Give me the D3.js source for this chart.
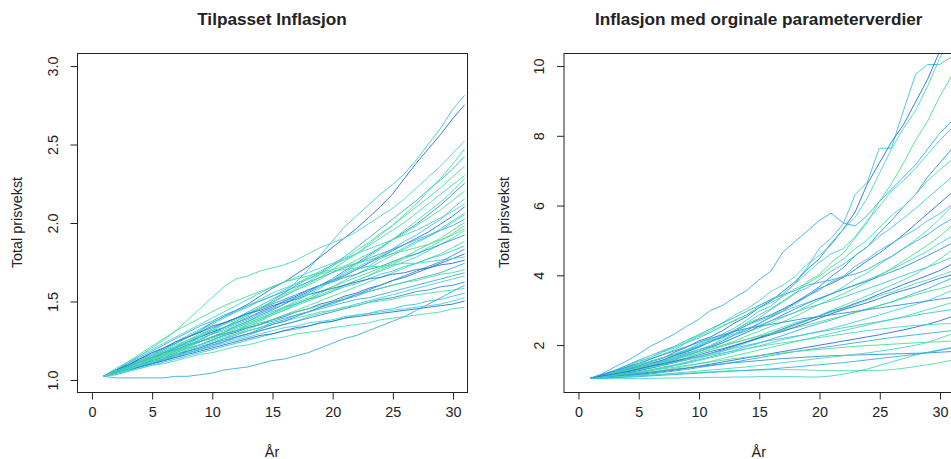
<!DOCTYPE html>
<html><head><meta charset="utf-8">
<script src="https://cdn.jsdelivr.net/npm/d3@7/dist/d3.min.js"></script>
<style>body{margin:0;background:#fff;}svg{display:block;}text{font-family:"Liberation Sans",Arial,sans-serif;fill:#222;}</style>
</head><body>
<svg id="c" width="951" height="459"></svg>
<script>
const years = [1,2,3,4,5,6,7,8,9,10,11,12,13,14,15,16,17,18,19,20,21,22,23,24,25,26,27,28,29,30,31];
const xTicks = [0,5,10,15,20,25,30];
const leftYTicks = [1.0,1.5,2.0,2.5,3.0];
const rightYTicks = [2,4,6,8,10];
const titles = ["Tilpasset Inflasjon","Inflasjon med orginale parameterverdier"];
const xLabel = "År";
const yLabel = "Total prisvekst";

const leftSeries = [
[1.02,1.05,1.07,1.10,1.13,1.16,1.19,1.22,1.25,1.29,1.33,1.37,1.41,1.45,1.50,1.55,1.62,1.70,1.79,1.88,1.97,2.04,2.11,2.18,2.24,2.31,2.40,2.50,2.60,2.72,2.81],
[1.02,1.06,1.09,1.12,1.15,1.19,1.23,1.27,1.31,1.36,1.40,1.44,1.48,1.53,1.58,1.62,1.67,1.72,1.78,1.84,1.90,1.96,2.03,2.10,2.18,2.28,2.38,2.47,2.56,2.66,2.75],
[1.02,1.06,1.10,1.15,1.20,1.25,1.31,1.38,1.45,1.52,1.59,1.64,1.66,1.69,1.71,1.73,1.76,1.80,1.84,1.87,1.90,1.94,1.99,2.04,2.09,2.15,2.22,2.29,2.36,2.44,2.52],
[1.02,1.04,1.07,1.10,1.14,1.17,1.21,1.25,1.28,1.32,1.36,1.39,1.43,1.47,1.51,1.55,1.60,1.64,1.68,1.73,1.78,1.84,1.90,1.96,2.02,2.08,2.14,2.21,2.27,2.34,2.42],
[1.02,1.05,1.08,1.11,1.13,1.16,1.20,1.23,1.27,1.30,1.33,1.37,1.41,1.45,1.49,1.54,1.58,1.62,1.67,1.72,1.77,1.82,1.87,1.93,1.98,2.04,2.10,2.16,2.22,2.29,2.36],
[1.02,1.06,1.09,1.13,1.17,1.20,1.24,1.28,1.32,1.36,1.40,1.43,1.46,1.50,1.53,1.57,1.61,1.65,1.69,1.73,1.76,1.80,1.85,1.90,1.95,2.00,2.06,2.12,2.18,2.24,2.30],
[1.02,1.04,1.06,1.09,1.12,1.15,1.18,1.21,1.24,1.27,1.30,1.34,1.37,1.41,1.44,1.48,1.52,1.56,1.60,1.64,1.69,1.74,1.79,1.84,1.89,1.94,1.99,2.05,2.11,2.18,2.25],
[1.02,1.05,1.08,1.12,1.15,1.18,1.22,1.25,1.29,1.32,1.35,1.39,1.42,1.46,1.49,1.53,1.57,1.60,1.64,1.68,1.72,1.76,1.80,1.84,1.89,1.93,1.98,2.03,2.08,2.14,2.20],
[1.02,1.05,1.07,1.10,1.13,1.16,1.19,1.22,1.25,1.29,1.32,1.35,1.38,1.42,1.45,1.48,1.52,1.55,1.59,1.63,1.67,1.71,1.75,1.79,1.83,1.88,1.92,1.97,2.02,2.09,2.15],
[1.02,1.04,1.07,1.10,1.13,1.17,1.20,1.24,1.27,1.30,1.33,1.36,1.39,1.43,1.46,1.50,1.53,1.57,1.60,1.63,1.66,1.70,1.74,1.78,1.82,1.86,1.90,1.94,1.99,2.04,2.10],
[1.02,1.04,1.06,1.08,1.11,1.13,1.16,1.19,1.22,1.25,1.28,1.31,1.34,1.37,1.41,1.44,1.48,1.51,1.55,1.59,1.63,1.67,1.71,1.75,1.79,1.83,1.87,1.91,1.96,2.01,2.06],
[1.02,1.06,1.10,1.14,1.18,1.22,1.26,1.30,1.34,1.37,1.41,1.44,1.47,1.50,1.53,1.56,1.59,1.62,1.65,1.68,1.71,1.74,1.77,1.80,1.83,1.86,1.89,1.92,1.95,1.98,2.02],
[1.02,1.05,1.08,1.10,1.13,1.16,1.18,1.21,1.24,1.27,1.30,1.33,1.36,1.39,1.42,1.45,1.48,1.51,1.54,1.57,1.60,1.63,1.66,1.70,1.73,1.77,1.80,1.84,1.88,1.93,1.98],
[1.02,1.04,1.07,1.10,1.12,1.15,1.18,1.21,1.24,1.27,1.29,1.32,1.35,1.38,1.41,1.44,1.47,1.50,1.53,1.56,1.60,1.63,1.66,1.69,1.72,1.75,1.78,1.82,1.86,1.90,1.95],
[1.02,1.05,1.09,1.13,1.16,1.20,1.23,1.27,1.30,1.33,1.36,1.39,1.42,1.45,1.48,1.51,1.54,1.57,1.60,1.62,1.65,1.67,1.70,1.72,1.75,1.78,1.80,1.83,1.86,1.89,1.92],
[1.02,1.04,1.06,1.08,1.10,1.13,1.15,1.18,1.20,1.23,1.26,1.29,1.32,1.35,1.38,1.41,1.44,1.47,1.50,1.53,1.56,1.59,1.62,1.65,1.68,1.71,1.74,1.77,1.80,1.84,1.88],
[1.02,1.05,1.08,1.11,1.14,1.17,1.20,1.23,1.26,1.29,1.31,1.34,1.37,1.40,1.43,1.46,1.48,1.51,1.53,1.56,1.59,1.61,1.64,1.67,1.69,1.72,1.74,1.77,1.79,1.82,1.85],
[1.02,1.04,1.07,1.09,1.12,1.14,1.17,1.20,1.22,1.25,1.28,1.30,1.33,1.35,1.38,1.40,1.43,1.45,1.48,1.50,1.53,1.55,1.58,1.60,1.63,1.65,1.68,1.71,1.74,1.77,1.80],
[1.02,1.05,1.08,1.12,1.16,1.19,1.23,1.27,1.31,1.35,1.39,1.43,1.47,1.51,1.55,1.58,1.61,1.64,1.67,1.69,1.70,1.71,1.72,1.72,1.73,1.74,1.74,1.75,1.76,1.77,1.78],
[1.02,1.04,1.06,1.09,1.11,1.13,1.16,1.18,1.21,1.23,1.26,1.28,1.31,1.33,1.36,1.38,1.41,1.43,1.46,1.48,1.51,1.53,1.56,1.58,1.60,1.62,1.64,1.66,1.68,1.71,1.74],
[1.02,1.05,1.08,1.11,1.13,1.16,1.19,1.21,1.24,1.26,1.29,1.31,1.34,1.36,1.38,1.41,1.43,1.45,1.47,1.49,1.52,1.54,1.56,1.58,1.60,1.62,1.63,1.65,1.67,1.68,1.70],
[1.02,1.04,1.06,1.08,1.10,1.12,1.14,1.17,1.19,1.21,1.24,1.26,1.28,1.31,1.33,1.35,1.37,1.40,1.42,1.44,1.46,1.48,1.50,1.52,1.54,1.56,1.58,1.60,1.62,1.64,1.66],
[1.02,1.04,1.07,1.09,1.11,1.13,1.16,1.18,1.20,1.23,1.25,1.27,1.29,1.31,1.33,1.35,1.37,1.39,1.41,1.43,1.45,1.47,1.49,1.51,1.52,1.54,1.56,1.57,1.59,1.60,1.62],
[1.02,1.05,1.07,1.10,1.12,1.15,1.17,1.20,1.22,1.24,1.27,1.29,1.31,1.33,1.35,1.37,1.39,1.41,1.43,1.44,1.46,1.47,1.49,1.50,1.51,1.53,1.54,1.55,1.56,1.57,1.58],
[1.02,1.03,1.05,1.07,1.09,1.11,1.13,1.15,1.17,1.19,1.21,1.23,1.25,1.27,1.29,1.31,1.32,1.34,1.36,1.37,1.39,1.41,1.42,1.44,1.45,1.47,1.48,1.50,1.51,1.53,1.55],
[1.02,1.04,1.06,1.08,1.10,1.12,1.14,1.16,1.18,1.20,1.22,1.24,1.26,1.28,1.29,1.31,1.33,1.34,1.36,1.37,1.39,1.40,1.41,1.42,1.43,1.44,1.45,1.46,1.47,1.48,1.50],
[1.02,1.03,1.05,1.07,1.09,1.10,1.12,1.14,1.16,1.17,1.19,1.21,1.22,1.24,1.26,1.27,1.29,1.30,1.31,1.33,1.34,1.35,1.36,1.38,1.39,1.40,1.41,1.42,1.43,1.45,1.46],
[1.02,1.01,1.01,1.01,1.01,1.01,1.02,1.02,1.03,1.04,1.06,1.07,1.08,1.10,1.12,1.13,1.15,1.17,1.20,1.23,1.26,1.28,1.31,1.34,1.37,1.40,1.44,1.48,1.52,1.56,1.60],
[1.02,1.05,1.07,1.10,1.13,1.15,1.18,1.21,1.24,1.27,1.30,1.33,1.36,1.39,1.42,1.46,1.49,1.52,1.56,1.59,1.62,1.65,1.68,1.71,1.74,1.78,1.82,1.86,1.90,1.95,2.00],
[1.02,1.07,1.11,1.15,1.19,1.23,1.27,1.31,1.35,1.39,1.43,1.47,1.51,1.55,1.59,1.62,1.65,1.68,1.71,1.74,1.77,1.80,1.83,1.86,1.89,1.92,1.95,1.99,2.03,2.07,2.12],
[1.02,1.04,1.06,1.08,1.10,1.12,1.15,1.17,1.19,1.22,1.24,1.27,1.29,1.32,1.35,1.37,1.40,1.43,1.46,1.49,1.51,1.54,1.57,1.60,1.63,1.66,1.69,1.72,1.75,1.79,1.83],
[1.02,1.05,1.08,1.11,1.14,1.17,1.21,1.24,1.28,1.31,1.35,1.38,1.42,1.45,1.49,1.53,1.57,1.61,1.65,1.70,1.75,1.80,1.86,1.92,1.98,2.05,2.12,2.20,2.28,2.37,2.47],
[1.02,1.05,1.09,1.12,1.14,1.18,1.21,1.23,1.27,1.31,1.33,1.36,1.40,1.42,1.45,1.50,1.52,1.55,1.60,1.62,1.66,1.70,1.72,1.77,1.80,1.84,1.88,1.91,1.95,2.00,2.05],
[1.02,1.06,1.09,1.13,1.17,1.20,1.24,1.27,1.30,1.34,1.36,1.39,1.42,1.44,1.47,1.49,1.51,1.54,1.56,1.58,1.60,1.62,1.64,1.65,1.67,1.68,1.70,1.71,1.73,1.74,1.76],
[1.02,1.04,1.06,1.09,1.11,1.14,1.16,1.19,1.22,1.25,1.28,1.31,1.35,1.38,1.42,1.46,1.50,1.54,1.58,1.63,1.68,1.73,1.78,1.83,1.89,1.95,2.01,2.07,2.13,2.20,2.28],
[1.02,1.05,1.08,1.11,1.14,1.17,1.19,1.22,1.24,1.27,1.29,1.31,1.33,1.35,1.37,1.39,1.41,1.43,1.45,1.47,1.49,1.51,1.52,1.54,1.56,1.58,1.60,1.62,1.64,1.66,1.68],
[1.02,1.06,1.11,1.16,1.21,1.26,1.31,1.35,1.39,1.43,1.47,1.50,1.53,1.56,1.59,1.62,1.64,1.66,1.68,1.70,1.72,1.74,1.76,1.78,1.80,1.82,1.84,1.86,1.89,1.92,1.96],
[1.02,1.04,1.06,1.09,1.11,1.13,1.15,1.17,1.19,1.21,1.23,1.25,1.27,1.29,1.31,1.33,1.34,1.36,1.37,1.38,1.40,1.41,1.42,1.43,1.44,1.45,1.46,1.47,1.48,1.50,1.52]
];

const rightSeries = [
[1.03,1.12,1.20,1.31,1.38,1.50,1.62,1.70,1.85,2.02,2.15,2.30,2.48,2.70,2.95,3.10,3.40,3.75,4.20,4.75,5.05,5.45,6.30,6.65,7.63,7.63,8.70,9.74,10.03,10.03,10.25],
[1.03,1.09,1.18,1.30,1.38,1.52,1.60,1.78,1.92,2.10,2.22,2.40,2.62,2.80,3.05,3.25,3.52,3.80,4.15,4.45,4.90,5.30,5.80,6.60,7.20,7.80,8.30,8.95,9.60,10.40,11.30],
[1.03,1.14,1.22,1.35,1.50,1.62,1.78,1.90,2.08,2.25,2.40,2.62,2.85,3.02,3.25,3.52,3.70,3.95,4.30,4.55,4.85,5.30,5.65,6.20,6.90,7.60,8.20,8.70,9.40,10.20,10.90],
[1.03,1.16,1.35,1.52,1.72,1.95,2.12,2.30,2.52,2.72,2.98,3.12,3.35,3.55,3.85,4.10,4.65,4.95,5.25,5.55,5.77,5.49,5.40,5.70,6.10,6.45,6.80,7.15,7.60,8.05,8.40],
[1.03,1.08,1.18,1.26,1.36,1.48,1.55,1.70,1.82,1.95,2.12,2.20,2.42,2.60,2.75,3.00,3.22,3.45,3.80,4.00,4.35,4.62,5.05,5.50,6.10,6.60,7.20,7.85,8.40,9.10,9.70],
[1.03,1.12,1.22,1.35,1.42,1.58,1.72,1.85,2.05,2.18,2.35,2.52,2.70,2.85,3.10,3.30,3.45,3.75,4.05,4.35,4.60,4.75,5.10,5.55,5.95,6.40,6.70,7.05,7.45,7.85,8.20],
[1.03,1.07,1.15,1.24,1.30,1.40,1.52,1.62,1.75,1.85,1.95,2.10,2.28,2.40,2.60,2.78,2.95,3.20,3.42,3.65,3.95,4.20,4.55,4.80,5.20,5.55,5.95,6.30,6.80,7.20,7.60],
[1.03,1.13,1.25,1.38,1.52,1.62,1.80,1.92,2.05,2.22,2.35,2.55,2.68,2.85,3.05,3.20,3.38,3.60,3.75,3.95,4.22,4.45,4.75,5.00,5.35,5.70,5.95,6.30,6.70,7.00,7.30],
[1.03,1.06,1.14,1.20,1.30,1.42,1.50,1.65,1.78,1.92,2.08,2.25,2.40,2.62,2.85,3.02,3.25,3.48,3.62,3.85,4.10,4.30,4.55,4.80,5.10,5.35,5.62,5.90,6.20,6.50,6.80],
[1.03,1.10,1.18,1.28,1.34,1.45,1.55,1.68,1.80,1.92,2.08,2.22,2.38,2.55,2.72,2.85,3.02,3.20,3.38,3.60,3.75,3.92,4.15,4.40,4.62,4.88,5.15,5.45,5.75,6.05,6.35],
[1.03,1.08,1.15,1.22,1.32,1.40,1.50,1.62,1.70,1.80,1.92,2.05,2.20,2.35,2.48,2.62,2.78,2.92,3.10,3.28,3.45,3.65,3.88,4.05,4.30,4.52,4.75,5.00,5.28,5.60,5.95],
[1.03,1.14,1.25,1.40,1.55,1.68,1.82,1.95,2.12,2.28,2.45,2.62,2.78,2.95,3.12,3.28,3.42,3.55,3.70,3.78,3.85,3.95,4.02,4.15,4.35,4.52,4.75,4.95,5.15,5.40,5.60],
[1.03,1.07,1.12,1.20,1.26,1.35,1.42,1.52,1.62,1.75,1.85,1.98,2.10,2.25,2.38,2.52,2.65,2.80,2.98,3.15,3.30,3.45,3.62,3.80,3.98,4.18,4.40,4.62,4.85,5.10,5.40],
[1.03,1.11,1.20,1.30,1.40,1.50,1.62,1.74,1.85,1.98,2.12,2.25,2.40,2.55,2.68,2.82,2.95,3.08,3.20,3.32,3.45,3.58,3.72,3.85,4.00,4.15,4.32,4.50,4.68,4.90,5.10],
[1.03,1.08,1.15,1.22,1.28,1.38,1.45,1.55,1.68,1.80,1.92,2.05,2.20,2.35,2.52,2.68,2.85,3.02,3.18,3.32,3.45,3.58,3.70,3.82,3.95,4.08,4.22,4.38,4.55,4.72,4.90],
[1.03,1.06,1.10,1.16,1.22,1.28,1.35,1.42,1.50,1.60,1.70,1.80,1.92,2.05,2.18,2.30,2.42,2.55,2.68,2.82,2.98,3.12,3.25,3.40,3.55,3.70,3.85,4.02,4.22,4.45,4.70],
[1.03,1.12,1.22,1.32,1.42,1.52,1.62,1.72,1.82,1.95,2.08,2.20,2.32,2.45,2.55,2.68,2.80,2.92,3.05,3.15,3.25,3.35,3.48,3.60,3.72,3.85,3.98,4.10,4.22,4.35,4.50],
[1.03,1.07,1.12,1.18,1.25,1.32,1.40,1.48,1.56,1.65,1.75,1.85,1.96,2.08,2.20,2.32,2.45,2.58,2.70,2.82,2.95,3.05,3.18,3.30,3.45,3.58,3.72,3.85,3.98,4.12,4.30],
[1.03,1.09,1.16,1.24,1.32,1.40,1.48,1.57,1.66,1.75,1.85,1.95,2.05,2.15,2.25,2.38,2.50,2.62,2.72,2.82,2.92,3.02,3.15,3.28,3.40,3.50,3.62,3.75,3.85,3.98,4.10],
[1.03,1.05,1.09,1.14,1.20,1.26,1.33,1.40,1.48,1.56,1.65,1.74,1.84,1.94,2.04,2.15,2.26,2.38,2.50,2.60,2.70,2.82,2.92,3.02,3.12,3.22,3.35,3.48,3.60,3.75,3.90],
[1.03,1.10,1.18,1.26,1.34,1.43,1.52,1.60,1.70,1.80,1.90,1.98,2.06,2.15,2.24,2.32,2.40,2.48,2.56,2.65,2.74,2.82,2.92,3.02,3.12,3.22,3.32,3.42,3.52,3.60,3.70],
[1.03,1.06,1.10,1.15,1.20,1.26,1.32,1.39,1.46,1.54,1.62,1.70,1.79,1.88,1.96,2.05,2.14,2.22,2.30,2.38,2.46,2.55,2.65,2.75,2.85,2.95,3.05,3.15,3.26,3.40,3.55],
[1.03,1.13,1.24,1.35,1.46,1.58,1.70,1.82,1.94,2.06,2.18,2.28,2.38,2.46,2.52,2.58,2.64,2.70,2.76,2.80,2.85,2.90,2.95,3.00,3.05,3.10,3.15,3.20,3.25,3.30,3.35],
[1.03,1.05,1.08,1.12,1.16,1.21,1.26,1.32,1.38,1.45,1.52,1.60,1.68,1.76,1.84,1.92,2.00,2.08,2.16,2.24,2.32,2.40,2.48,2.56,2.64,2.72,2.80,2.90,3.00,3.10,3.20],
[1.03,1.08,1.14,1.20,1.27,1.34,1.42,1.50,1.58,1.66,1.74,1.82,1.90,1.98,2.05,2.12,2.18,2.24,2.30,2.36,2.42,2.48,2.54,2.60,2.66,2.72,2.78,2.84,2.90,2.95,3.00],
[1.03,1.04,1.07,1.10,1.14,1.18,1.22,1.27,1.32,1.38,1.44,1.50,1.56,1.62,1.68,1.74,1.80,1.86,1.92,1.98,2.04,2.10,2.16,2.22,2.28,2.35,2.42,2.50,2.58,2.68,2.80],
[1.03,1.09,1.15,1.21,1.28,1.35,1.42,1.49,1.56,1.63,1.70,1.76,1.82,1.88,1.94,2.00,2.05,2.10,2.15,2.20,2.25,2.30,2.35,2.40,2.44,2.48,2.52,2.55,2.57,2.59,2.60],
[1.03,1.04,1.06,1.09,1.12,1.16,1.20,1.24,1.29,1.34,1.39,1.44,1.50,1.56,1.62,1.68,1.74,1.80,1.85,1.90,1.95,2.00,2.05,2.10,2.15,2.20,2.24,2.28,2.32,2.36,2.40],
[1.03,1.07,1.11,1.15,1.20,1.25,1.30,1.35,1.40,1.45,1.50,1.55,1.60,1.64,1.68,1.72,1.76,1.80,1.83,1.86,1.89,1.92,1.95,1.97,1.99,2.01,2.03,2.05,2.07,2.08,2.10],
[1.03,1.02,1.02,1.02,1.03,1.03,1.04,1.04,1.05,1.05,1.06,1.06,1.07,1.07,1.08,1.08,1.08,1.08,1.07,1.07,1.10,1.15,1.22,1.30,1.40,1.50,1.60,1.70,1.78,1.85,1.92],
[1.03,1.06,1.09,1.13,1.17,1.21,1.25,1.29,1.33,1.37,1.41,1.45,1.48,1.51,1.54,1.57,1.60,1.62,1.64,1.66,1.68,1.69,1.70,1.71,1.72,1.73,1.74,1.75,1.76,1.78,1.80],
[1.03,1.04,1.06,1.08,1.10,1.12,1.14,1.16,1.18,1.20,1.22,1.24,1.25,1.26,1.27,1.28,1.28,1.28,1.27,1.26,1.25,1.25,1.25,1.26,1.26,1.28,1.32,1.37,1.42,1.48,1.55],
[1.03,1.08,1.12,1.20,1.30,1.38,1.50,1.58,1.72,1.85,1.98,2.15,2.28,2.45,2.60,2.80,3.00,3.15,3.38,3.55,3.80,3.95,4.25,4.45,4.70,4.90,5.10,5.30,5.55,5.75,6.00],
[1.03,1.10,1.16,1.22,1.30,1.38,1.45,1.52,1.60,1.70,1.80,1.88,1.98,2.08,2.18,2.28,2.38,2.50,2.62,2.75,2.88,3.00,3.10,3.20,3.32,3.45,3.55,3.65,3.78,3.90,4.00],
[1.03,1.05,1.07,1.09,1.11,1.13,1.15,1.18,1.21,1.24,1.27,1.30,1.33,1.36,1.40,1.44,1.48,1.52,1.56,1.60,1.64,1.68,1.72,1.76,1.81,1.86,1.92,1.98,2.06,2.18,2.30],
[1.03,1.04,1.05,1.06,1.08,1.10,1.12,1.14,1.16,1.18,1.20,1.22,1.24,1.26,1.28,1.30,1.33,1.36,1.39,1.42,1.45,1.48,1.52,1.56,1.60,1.64,1.68,1.72,1.77,1.83,1.90]
];

const palette = ["#2a6fd8","#3390dc","#3aaee0","#40c4dc","#44d4d0","#46dcbc","#48e0a4","#46e08a"];

const svg = d3.select("#c");
const FONT = 14.4;

function panel(opts) {
  const {left, right, top, bottom, xDomain, yDomain, yTicks, yFmt, series, title, id} = opts;
  const x = d3.scaleLinear().domain(xDomain).range([left, right]);
  const y = d3.scaleLinear().domain(yDomain).range([bottom, top]);
  const g = svg.append("g");
  g.append("clipPath").attr("id", id).append("rect")
    .attr("x", left).attr("y", top).attr("width", right - left).attr("height", bottom - top);
  const line = d3.line().x((d, i) => x(years[i])).y(d => y(d));
  g.append("g").attr("clip-path", `url(#${id})`)
    .selectAll("path").data(series).join("path")
    .attr("d", line).attr("fill", "none")
    .attr("stroke", (d, i) => palette[(i * 5 + 3) % palette.length])
    .attr("stroke-width", 1)
    .attr("stroke-opacity", 0.9);
  g.append("rect").attr("x", left + 0.5).attr("y", top + 0.5)
    .attr("width", right - left).attr("height", bottom - top)
    .attr("fill", "none").attr("stroke", "#222").attr("stroke-width", 1);
  const xa = g.append("g").attr("transform", `translate(0.5,${bottom + 0.5})`)
    .call(d3.axisBottom(x).tickValues(xTicks).tickSize(7).tickPadding(15).tickSizeOuter(0));
  xa.select(".domain").remove();
  xa.selectAll("line").attr("stroke", "#222");
  xa.selectAll("text").attr("font-size", FONT).attr("fill", "#222").attr("dy", "0.2em");
  const ya = g.append("g").attr("transform", `translate(${left + 0.5},0.5)`)
    .call(d3.axisLeft(y).tickValues(yTicks).tickSize(7).tickFormat(yFmt).tickSizeOuter(0));
  ya.select(".domain").remove();
  ya.selectAll("line").attr("stroke", "#222");
  ya.selectAll("text").remove();
  ya.selectAll(".tick").append("text")
    .attr("transform", "rotate(-90)")
    .attr("x", 0).attr("y", -20)
    .attr("text-anchor", "middle")
    .attr("font-size", FONT)
    .text(d => yFmt(d));
  const cx = (left + right) / 2;
  g.append("text").attr("x", cx).attr("y", 25).attr("text-anchor", "middle")
    .attr("font-size", 17.2).attr("font-weight", "bold").text(title);
  g.append("text").attr("x", cx).attr("y", 457).attr("text-anchor", "middle")
    .attr("font-size", FONT).text(xLabel);
  g.append("text").attr("transform", `translate(${left - 55},${(top + bottom) / 2}) rotate(-90)`)
    .attr("text-anchor", "middle").attr("font-size", FONT).text(yLabel);
}

panel({left: 77, right: 467, top: 53, bottom: 392, xDomain: [-1.2, 31.2], yDomain: [0.92, 3.08],
  yTicks: leftYTicks, yFmt: d3.format(".1f"), series: leftSeries, title: titles[0], id: "clipL"});
panel({left: 563.5, right: 954, top: 53, bottom: 392, xDomain: [-1.2, 31.2], yDomain: [0.64, 10.36],
  yTicks: rightYTicks, yFmt: d3.format("d"), series: rightSeries, title: titles[1], id: "clipR"});
</script>
</body></html>
